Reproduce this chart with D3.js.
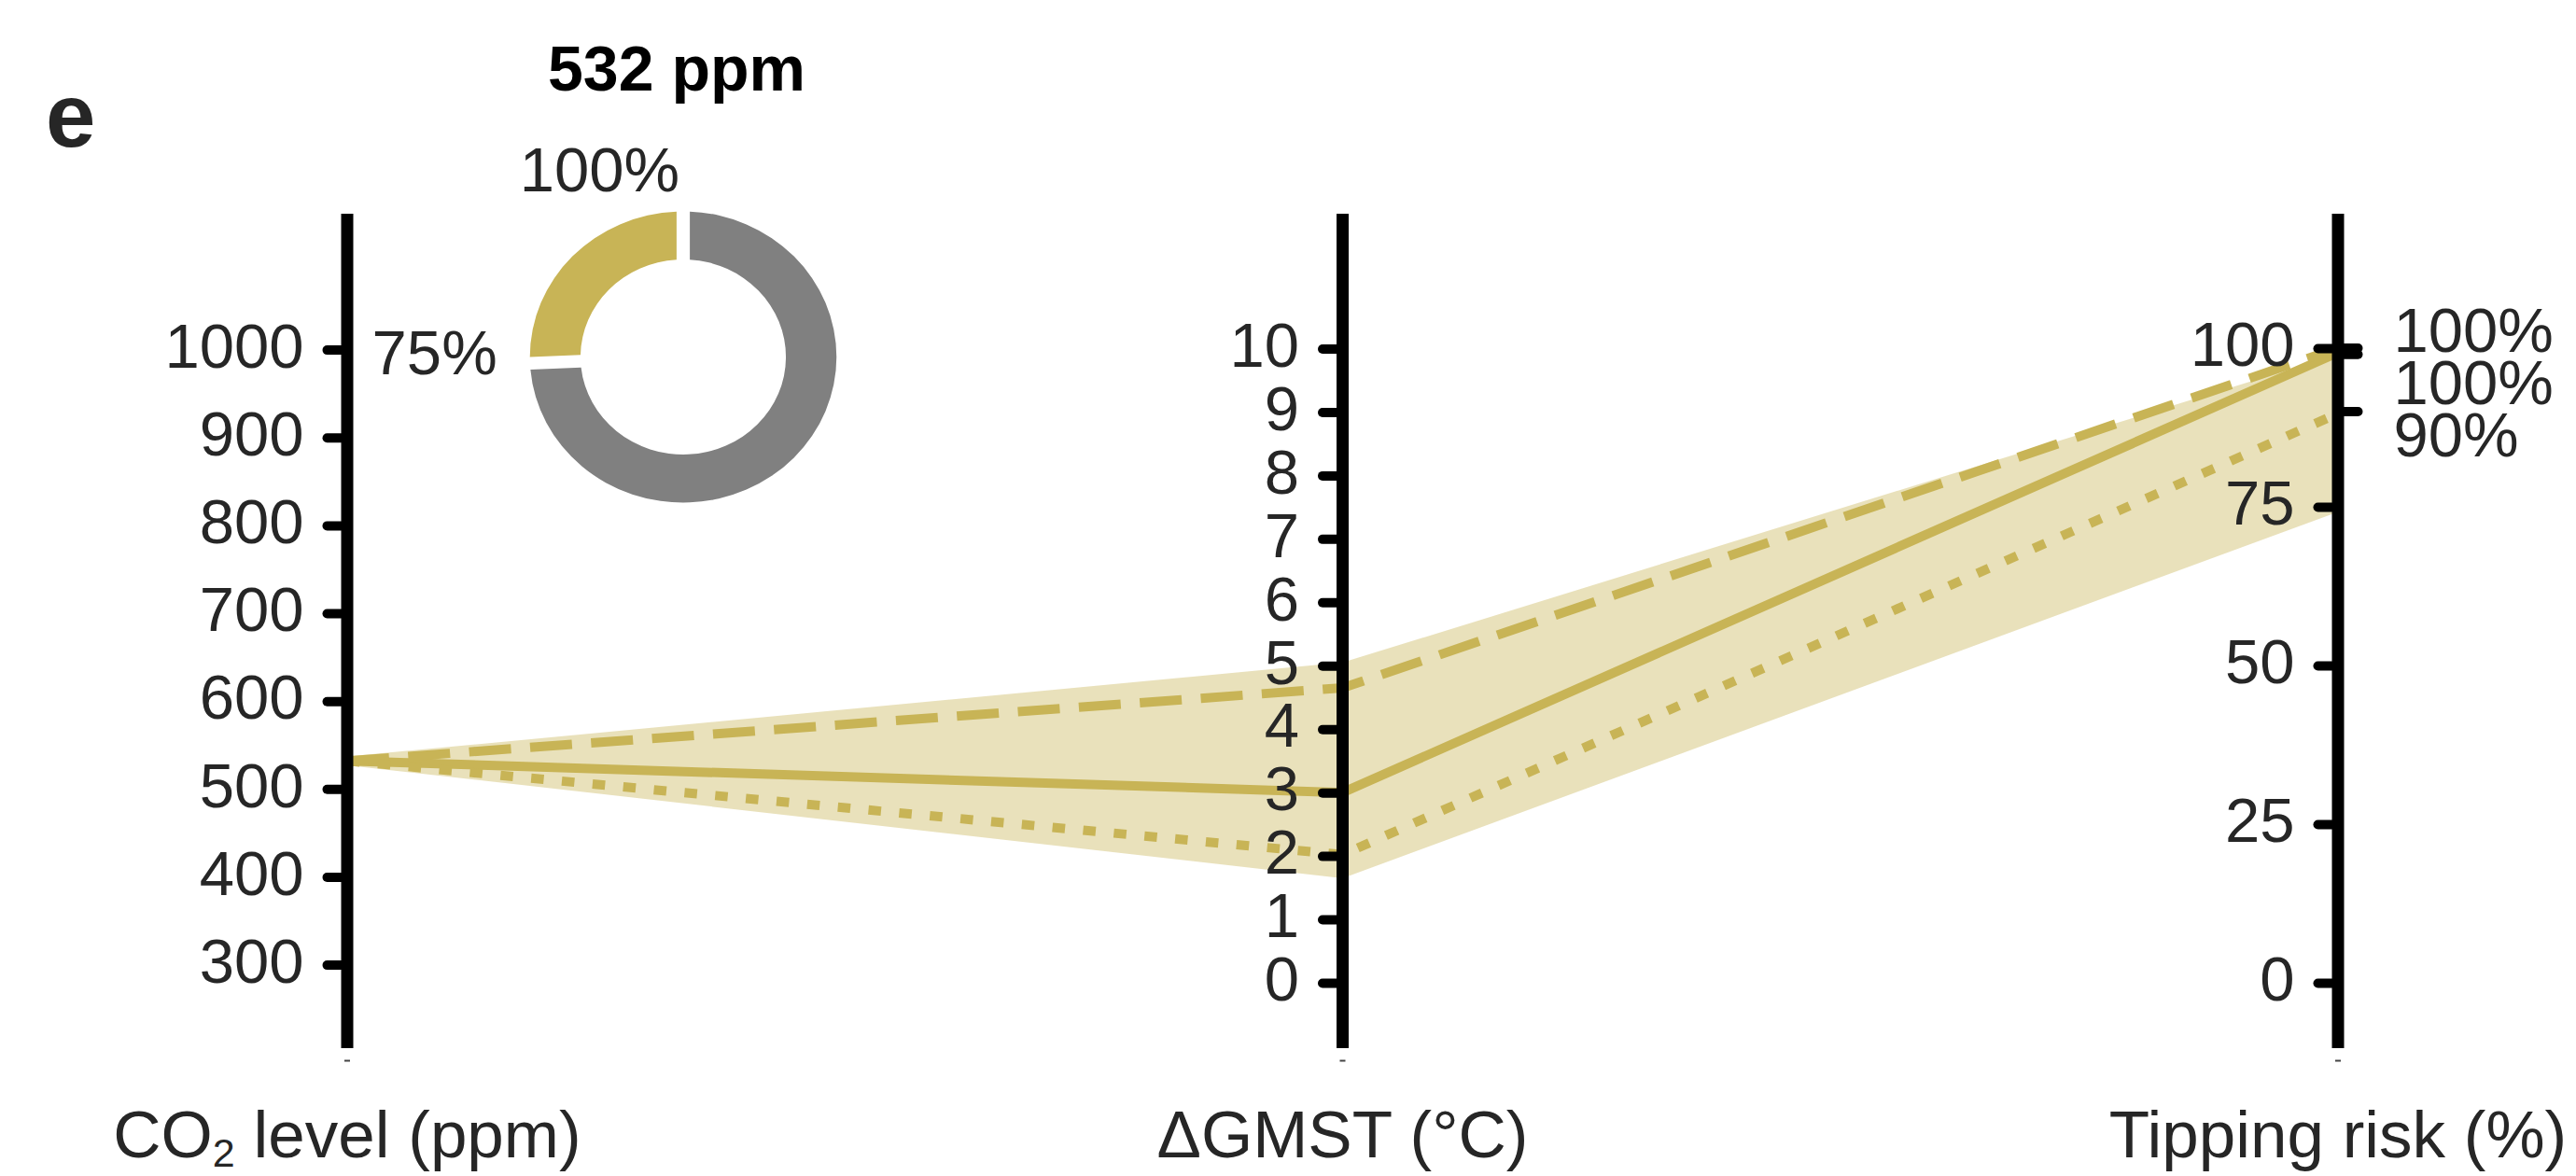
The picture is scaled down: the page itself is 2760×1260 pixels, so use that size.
<!DOCTYPE html>
<html>
<head>
<meta charset="utf-8">
<script src="https://cdn.jsdelivr.net/npm/d3@7"></script>
<style>
  body { margin: 0; background: #fff; }
  svg { display: block; font-family: "Liberation Sans", Arial, sans-serif; }
  .tick text { fill: #262626; }
</style>
</head>
<body>
<script>
// axes of the parallel plot
var axisKeys = ["co2", "gmst", "risk"];
var co2Ticks = [300, 400, 500, 600, 700, 800, 900, 1000];
var gmstTicks = [0, 1, 2, 3, 4, 5, 6, 7, 8, 9, 10];
var riskTicks = [0, 25, 50, 75, 100];

// values on each axis: co2, gmst, risk
var medianLine = [532, 3.0, 99.3];   // solid
var highLine = [532, 4.65, 100];     // dashed
var lowLine = [532, 2.02, 89.7];     // dotted
var bandLow = [527, 1.65, 74.2];
var bandHigh = [537, 5.05, 99.0];

// end labels on the risk axis
var riskLabels = ["100%", "100%", "90%"];

// donut (share of runs)
var donutShares = [75, 25];
var donutLabels = ["75%", "100%"];
var donutTitle = "532 ppm";

var width = 2760, height = 1260;
var gold = "#C8B456", grey = "#808080", ink = "#262626";
var panelTop = 229, panelBottom = 1123;

var svg = d3.select("body").append("svg")
  .attr("width", width)
  .attr("height", height);

var x = d3.scalePoint().domain(axisKeys).range([372, 2505]);

var yScales = {
  co2: d3.scaleLinear().domain([300, 1000]).range([1033.6, 374.6]),
  gmst: d3.scaleLinear().domain([0, 10]).range([1053, 373.5]),
  risk: d3.scaleLinear().domain([0, 100]).range([1053, 373])
};

function yAt(v, i) { return yScales[axisKeys[i]](v); }

// ribbon
var band = bandLow.map(function (d, i) { return [d, bandHigh[i]]; });
var area = d3.area()
  .x(function (d, i) { return x(axisKeys[i]); })
  .y0(function (d, i) { return yAt(d[0], i); })
  .y1(function (d, i) { return yAt(d[1], i); });

svg.append("path")
  .datum(band)
  .attr("d", area)
  .attr("fill", gold)
  .attr("fill-opacity", 0.4);

var line = d3.line()
  .x(function (d, i) { return x(axisKeys[i]); })
  .y(function (d, i) { return yAt(d, i); });

[[medianLine, null], [highLine, "45,20.5"], [lowLine, "13.5,19.5"]].forEach(function (s) {
  svg.append("path")
    .datum(s[0])
    .attr("d", line)
    .attr("fill", "none")
    .attr("stroke", gold)
    .attr("stroke-width", 10)
    .attr("stroke-dasharray", s[1]);
});

// axes
var axisW = 13;
var tickSets = { co2: co2Ticks, gmst: gmstTicks, risk: riskTicks };

axisKeys.forEach(function (k) {
  var ax = x(k);
  svg.append("line")
    .attr("x1", ax).attr("x2", ax)
    .attr("y1", panelTop).attr("y2", panelBottom)
    .attr("stroke", "#000")
    .attr("stroke-width", axisW);

  var g = svg.append("g")
    .attr("transform", "translate(" + (ax - axisW / 2) + ",0)")
    .call(d3.axisLeft(yScales[k]).tickValues(tickSets[k]).tickFormat(d3.format("d"))
      .tickSize(15).tickPadding(25));
  g.select(".domain").remove();
  g.attr("font-family", null);
  g.selectAll(".tick line")
    .attr("stroke", "#000")
    .attr("stroke-width", 10)
    .attr("stroke-linecap", "round");
  g.selectAll(".tick text")
    .attr("font-size", 67)
    .attr("dy", "0.28em");

  // tiny bottom tick
  svg.append("rect")
    .attr("x", ax - 3).attr("y", 1135.5)
    .attr("width", 6).attr("height", 2)
    .attr("fill", "#444");
});

// value ticks + labels on the right side of the risk axis
var riskEnds = [highLine[2], medianLine[2], lowLine[2]];
var rx = x("risk") + axisW / 2;
var uniqueEnds = Array.from(new Set(riskEnds.map(Math.round)));
svg.selectAll(".vtick")
  .data(uniqueEnds)
  .enter().append("line")
  .attr("x1", rx).attr("x2", rx + 15)
  .attr("y1", function (d) { return yScales.risk(d); })
  .attr("y2", function (d) { return yScales.risk(d); })
  .attr("stroke", "#000")
  .attr("stroke-width", 10)
  .attr("stroke-linecap", "round");

// simple repel: top label nudged up, rest pushed down with min gap
var labelY = [];
riskEnds.forEach(function (v, i) {
  var want = yScales.risk(v);
  labelY.push(i === 0 ? want - 20 : Math.max(want, labelY[i - 1] + 56));
});
svg.selectAll(".rlab")
  .data(riskLabels)
  .enter().append("text")
  .attr("x", rx + 53)
  .attr("y", function (d, i) { return labelY[i] + 24; })
  .attr("font-size", 67)
  .attr("fill", ink)
  .text(function (d) { return d; });

// axis titles
var titles = svg.append("g").attr("font-size", 71).attr("fill", ink).attr("text-anchor", "middle");
var t1 = titles.append("text").attr("x", x("co2")).attr("y", 1240);
t1.append("tspan").text("CO");
t1.append("tspan").attr("font-size", 43).attr("dy", 10).text("2");
t1.append("tspan").attr("dy", -10).text(" level (ppm)");
titles.append("text").attr("x", x("gmst")).attr("y", 1240).text("\u0394GMST (\u00B0C)");
titles.append("text").attr("x", x("risk")).attr("y", 1240).text("Tipping risk (%)");

// panel letter
svg.append("text")
  .attr("x", 49).attr("y", 157)
  .attr("font-size", 96).attr("font-weight", "bold").attr("fill", ink)
  .text("e");

// donut
var cx = 732, cy = 382.5, rOut = 156, rIn = 104.5, sx = 1.053;
var pie = d3.pie().sort(null).value(function (d) { return d; }).padAngle(13.5 / rOut);
var arc = d3.arc().innerRadius(rIn).outerRadius(rOut).padRadius(rOut);
var donut = svg.append("g").attr("transform", "translate(" + cx + "," + cy + ") scale(" + sx + ",1)");
donut.selectAll("path")
  .data(pie(donutShares))
  .enter().append("path")
  .attr("d", arc)
  .attr("fill", function (d, i) { return i === 0 ? grey : gold; });

svg.append("text")
  .attr("x", cx - 7).attr("y", 97)
  .attr("text-anchor", "middle")
  .attr("font-size", 68).attr("font-weight", "bold").attr("fill", "#000")
  .text(donutTitle);

// donut boundary labels (at 75% and at 100%)
svg.append("text")
  .attr("x", cx - rOut * sx - 35).attr("y", cy + 18)
  .attr("text-anchor", "end").attr("font-size", 67).attr("fill", ink)
  .text(donutLabels[0]);
svg.append("text")
  .attr("x", cx - 4).attr("y", cy - rOut - 22)
  .attr("text-anchor", "end").attr("font-size", 67).attr("fill", ink)
  .text(donutLabels[1]);
</script>
</body>
</html>
